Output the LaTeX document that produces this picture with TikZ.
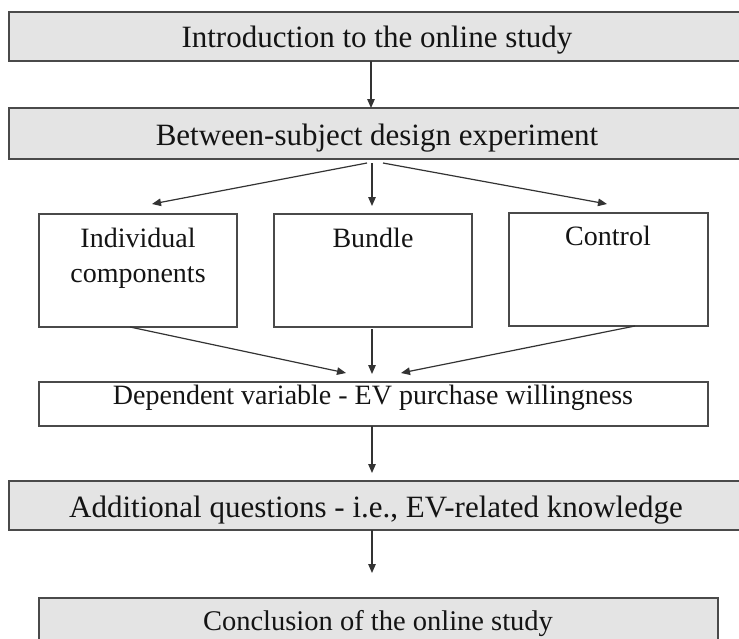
\documentclass[tikz,border=0pt]{standalone}
\usepackage{fontspec}
\setmainfont{Liberation Serif}
\usetikzlibrary{arrows.meta}
\definecolor{boxfill}{HTML}{E4E4E4}
\definecolor{boxline}{HTML}{4A4A4A}
\definecolor{arrline}{HTML}{333333}
\definecolor{txt}{HTML}{141414}
\tikzset{
  box/.style={draw=boxline, line width=2pt, fill=white, inner sep=0pt, outer sep=0pt, anchor=north west},
  gbox/.style={box, fill=boxfill},
  bigtext/.style={anchor=base, text=txt, inner sep=0pt, font=\fontsize{31}{36}\selectfont},
  midtext/.style={anchor=base, text=txt, inner sep=0pt, font=\fontsize{28.5}{34}\selectfont},
  smalltext/.style={anchor=base, text=txt, inner sep=0pt, font=\fontsize{28}{35}\selectfont},
  arr/.style={draw=arrline, line width=1.2pt, -{Triangle[length=9pt,width=7.5pt]}}
}
\begin{document}
\begin{tikzpicture}[x=1pt,y=-1pt]
\useasboundingbox (0,0) rectangle (739,638);
\clip (0,0) rectangle (739,638);
\fill[white] (0,0) rectangle (739,638);

% boxes
\node[gbox, minimum width=736pt, minimum height=49pt] (intro) at (9,12) {};
\node[gbox, minimum width=736pt, minimum height=51pt] (between) at (9,108) {};
\node[box, minimum width=198pt, minimum height=113pt] (ind) at (39,214) {};
\node[box, minimum width=198pt, minimum height=113pt] (bun) at (274,214) {};
\node[box, minimum width=199pt, minimum height=113pt] (con) at (509,213) {};
\node[box, minimum width=669pt, minimum height=44pt] (dep) at (39,382) {};
\node[gbox, minimum width=736pt, minimum height=49pt] (add) at (9,481) {};
\node[gbox, minimum width=679pt, minimum height=60pt] (concl) at (39,598) {};

% texts
\node[bigtext] (introT) at (377,47) {Introduction to the online study};
\node[bigtext] (betweenT) at (377,145) {Between-subject design experiment};
\node[smalltext] (indT1) at (138,247) {Individual};
\node[smalltext] (indT2) at (138,282) {components};
\node[smalltext] (bunT) at (373,247) {Bundle};
\node[smalltext] (conT) at (608,245) {Control};
\node[smalltext] (depT) at (373,404) {Dependent variable - EV purchase willingness};
\node[bigtext] (addT) at (376,517) {Additional questions - i.e., EV-related knowledge};
\node[midtext] (conclT) at (378,630) {Conclusion of the online study};

% connector coordinates
\coordinate (s1) at (371,61);
\coordinate (e1) at (371,108);
\coordinate (s2a) at (367,163);
\coordinate (e2a) at (152,204);
\coordinate (s2b) at (372,163);
\coordinate (e2b) at (372,206);
\coordinate (s2c) at (383,163);
\coordinate (e2c) at (607,204);
\coordinate (s3a) at (130,327);
\coordinate (e3a) at (346,373);
\coordinate (s3b) at (372,329);
\coordinate (e3b) at (372,374);
\coordinate (s3c) at (635,326);
\coordinate (e3c) at (401,373);
\coordinate (s4) at (372,426);
\coordinate (e4) at (372,473);
\coordinate (s5) at (372,530);
\coordinate (e5) at (372,573);

% connectors
\draw[arr] (s1) -- (e1);
\draw[arr] (s2a) -- (e2a);
\draw[arr] (s2b) -- (e2b);
\draw[arr] (s2c) -- (e2c);
\draw[arr] (s3a) -- (e3a);
\draw[arr] (s3b) -- (e3b);
\draw[arr] (s3c) -- (e3c);
\draw[arr] (s4) -- (e4);
\draw[arr] (s5) -- (e5);
\end{tikzpicture}
\end{document}
